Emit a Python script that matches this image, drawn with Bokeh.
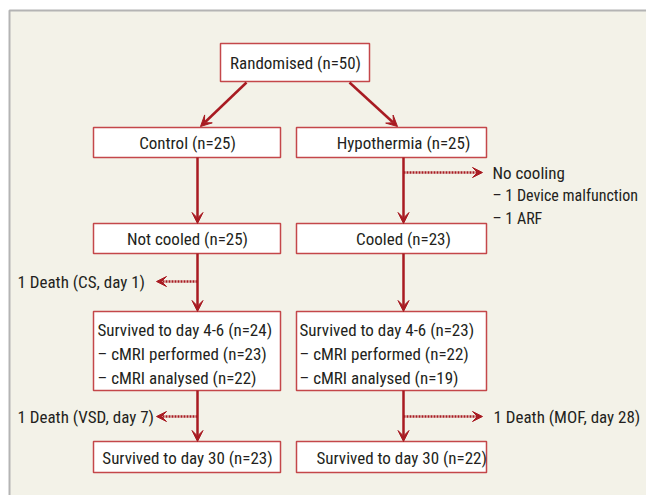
from bokeh.plotting import figure
from bokeh.models import Arrow, VeeHead, ColumnDataSource, Range1d
from bokeh.core.properties import value
from bokeh.embed import file_html
from bokeh.resources import INLINE

# ---------------- data ----------------
n_randomised = 50
arm_names = ["Control", "Hypothermia"]
n_allocated = [25, 25]
treat_names = ["Not cooled", "Cooled"]
n_treated = [25, 23]
n_day4_6 = [24, 23]
n_cmri_performed = [23, 22]
n_cmri_analysed = [22, 19]
n_day30 = [23, 22]
no_cooling_title = "No cooling"
no_cooling_reasons = ["1 Device malfunction", "1 ARF"]
death_early = ["1 Death (CS, day 1)", None]
death_late = ["1 Death (VSD, day 7)", "1 Death (MOF, day 28)"]

# ---------------- style / layout ----------------
FONT = "'Liberation Sans Narrow', 'Roboto Condensed', 'DejaVu Sans Condensed', sans-serif"
FS = "17px"
TXT = "#231f20"
BOX_LINE = "#c4474a"
ARROW = "#a81b22"
BG = "#f3f2e8"
PANEL_LINE = "#b4b4b4"

W, H = 646, 495
X0, Y0 = 0, 0

p = figure(width=W, height=H, output_backend="svg", toolbar_location=None,
           x_range=Range1d(X0, X0 + W), y_range=Range1d(Y0 + H, Y0),
           min_border=0, outline_line_color=None)
p.axis.visible = False
p.grid.visible = False
p.background_fill_color = "white"
p.border_fill_color = "white"

# panel
p.quad(left=[9], right=[700], top=[10], bottom=[600], fill_color=BG,
       line_color=PANEL_LINE, line_width=2)

colx = [(93, 280), (296, 486)]
col_mid = [197, 403]
rows = {"rand": (43, 81), "alloc": (127, 157), "treat": (223, 253),
        "d46": (311, 390), "d30": (441, 472)}

# boxes
lefts, rights, tops, bottoms = [220], [369], [43], [81]
for key in ["alloc", "treat", "d46", "d30"]:
    for c in range(2):
        lefts.append(colx[c][0]); rights.append(colx[c][1])
        tops.append(rows[key][0]); bottoms.append(rows[key][1])
p.quad(left=lefts, right=rights, top=tops, bottom=bottoms,
       fill_color="white", line_color=BOX_LINE, line_width=1.5)

# solid arrows
xs, ys, xe, ye = [246, 349], [82, 82], [200, 397], [126, 126]
for c in range(2):
    for a, b in [("alloc", "treat"), ("treat", "d46"), ("d46", "d30")]:
        xs.append(col_mid[c]); ys.append(rows[a][1])
        xe.append(col_mid[c]); ye.append(rows[b][0])
src = ColumnDataSource(dict(x0=xs, y0=ys, x1=xe, y1=ye))
p.add_layout(Arrow(end=VeeHead(size=11, fill_color=ARROW, line_color=ARROW, line_width=1),
                   x_start="x0", y_start="y0", x_end="x1", y_end="y1",
                   source=src, line_color=ARROW, line_width=2.5))

# dotted side arrows
dx0 = [403, 197, 197, 403]; dy0 = [172, 281, 416, 416]
dx1 = [482, 156, 156, 482]; dy1 = [172, 281, 416, 416]
dsrc = ColumnDataSource(dict(x0=dx0, y0=dy0, x1=dx1, y1=dy1))
p.add_layout(Arrow(end=VeeHead(size=10, fill_color=ARROW, line_color=ARROW, line_width=1),
                   x_start="x0", y_start="y0", x_end="x1", y_end="y1",
                   source=dsrc, line_color=ARROW, line_width=2.5, line_dash="2 1"))

def txt(x, y, s, align="center", fs=FS):
    p.text(x=[x], y=[y], text=[s], text_font=value(FONT), text_font_size=fs,
           text_color=TXT, text_align=align, text_baseline="middle")

txt(295, 62, f"Randomised (n={n_randomised})")
centers = [187, 403]
for c in range(2):
    txt(centers[c], 142, f"{arm_names[c]} (n={n_allocated[c]})")
    txt(centers[c], 238, f"{treat_names[c]} (n={n_treated[c]})")
lx = [97, 299]
for c in range(2):
    txt(lx[c], 329, f"Survived to day 4-6 (n={n_day4_6[c]})", "left")
    txt(lx[c], 353, f"\u2013 cMRI performed (n={n_cmri_performed[c]})", "left")
    txt(lx[c], 377, f"\u2013 cMRI analysed (n={n_cmri_analysed[c]})", "left")
txt(187, 457, f"Survived to day 30 (n={n_day30[0]})")
txt(316, 457, f"Survived to day 30 (n={n_day30[1]})", "left")

txt(492, 172, no_cooling_title, "left")
txt(492, 195, f"\u2013 {no_cooling_reasons[0]}", "left", "16px")
txt(492, 218, f"\u2013 {no_cooling_reasons[1]}", "left", "16px")
txt(17, 281, death_early[0], "left")
txt(17, 416, death_late[0], "left")
txt(493, 416, death_late[1], "left")

open("out.html", "w").write(file_html(p, INLINE))
